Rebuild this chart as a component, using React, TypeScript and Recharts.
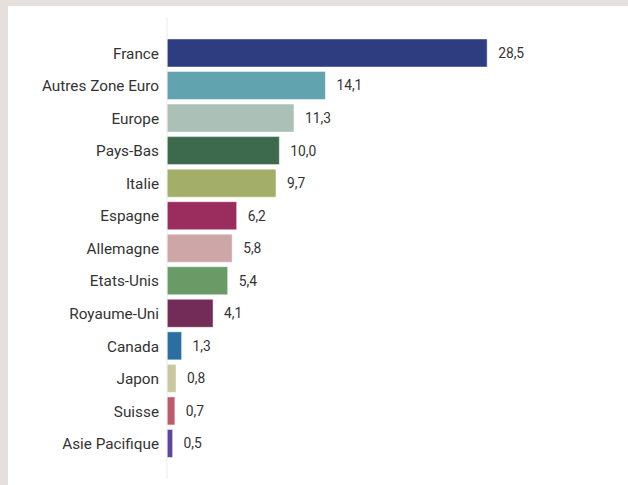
import React from "react";
import { BarChart, Bar, XAxis, YAxis, Cell, LabelList } from "recharts";

const categories = [
  "France",
  "Autres Zone Euro",
  "Europe",
  "Pays-Bas",
  "Italie",
  "Espagne",
  "Allemagne",
  "Etats-Unis",
  "Royaume-Uni",
  "Canada",
  "Japon",
  "Suisse",
  "Asie Pacifique",
];
const values = [28.5, 14.1, 11.3, 10.0, 9.7, 6.2, 5.8, 5.4, 4.1, 1.3, 0.8, 0.7, 0.5];
const colors = [
  "#2e3d80",
  "#61a3ae",
  "#abc0b6",
  "#3d6a4c",
  "#a3af68",
  "#9b2c5e",
  "#cda6a7",
  "#6a9a65",
  "#722c57",
  "#2b6ea2",
  "#c9c89e",
  "#bd5a6d",
  "#5d479e",
];

const data = categories.map((name, i) => ({ name, value: values[i] }));

const fmt = (v: any) => Number(v).toFixed(1).replace(".", ",");

export default function App() {
  return (
    <div
      style={{
        position: "fixed",
        left: 0,
        top: 0,
        width: 628,
        height: 485,
        background: "#e5e0db",
        overflow: "hidden",
      }}
    >
      <div
        style={{
          position: "absolute",
          left: 8,
          top: 6,
          width: 620,
          height: 479,
          background: "#ffffff",
        }}
      >
        <BarChart
          width={620}
          height={479}
          data={data}
          layout="vertical"
          margin={{ top: 12, right: 124, bottom: 6, left: 0 }}
          style={{ fontFamily: "Roboto, 'Liberation Sans', sans-serif" }}
        >
          <XAxis type="number" domain={[0, 30]} hide />
          <YAxis
            type="category"
            dataKey="name"
            width={159}
            tickLine={false}
            axisLine={{ stroke: "#ececec" }}
            tick={{ fill: "#333333", fontSize: 15.3 }}
            padding={{ top: 19, bottom: 19 }}
            interval={0}
          />
          <Bar
            dataKey="value"
            barSize={28}
            isAnimationActive={false}
            stroke="rgba(255,255,255,0.45)"
            strokeWidth={1}
          >
            {data.map((d, i) => (
              <Cell key={d.name} fill={colors[i]} />
            ))}
            <LabelList
              dataKey="value"
              position="right"
              offset={11}
              formatter={fmt}
              style={{ fill: "#333333", fontSize: 13.8 }}
            />
          </Bar>
        </BarChart>
      </div>
    </div>
  );
}
